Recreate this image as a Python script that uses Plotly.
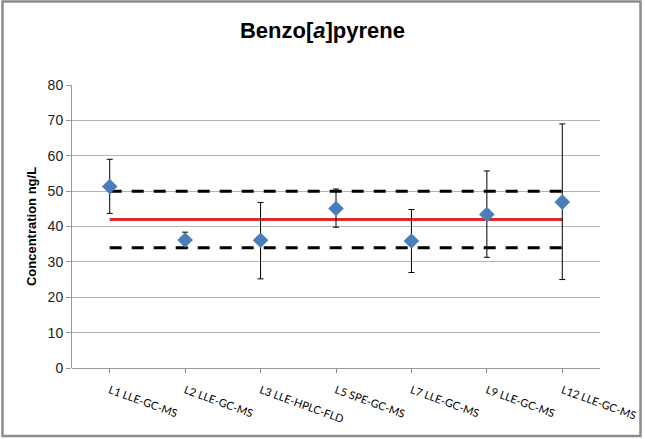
import plotly.graph_objects as go

labs = ["L1 LLE-GC-MS", "L2 LLE-GC-MS", "L3 LLE-HPLC-FLD", "L5 SPE-GC-MS",
        "L7 LLE-GC-MS", "L9 LLE-GC-MS", "L12 LLE-GC-MS"]
conc = [51.3, 36.2, 36.1, 45.1, 35.9, 43.4, 46.9]
err_plus = [7.7, 2.2, 10.7, 5.5, 8.9, 12.3, 22.1]
err_minus = [7.6, 2.2, 10.9, 5.3, 8.9, 12.1, 21.9]
ref_value = 42
lower_limit = 34
upper_limit = 50

W, H = 645, 439
L, R, T, B = 72, 45, 85, 71
pw, ph = W - L - R, H - T - B

fig = go.Figure()
for val, col, dash in [(upper_limit, "black", "12px,10px"), (lower_limit, "black", "12px,10px"), (ref_value, "#e0292b", "solid")]:
    fig.add_trace(go.Scatter(x=labs, y=[val] * len(labs), mode="lines",
                             line=dict(color=col, width=3, dash=dash), hoverinfo="skip"))
fig.add_trace(go.Scatter(
    x=labs, y=conc, mode="markers",
    marker=dict(symbol="diamond", size=12, color="#4a7ebb"),
    error_y=dict(type="data", symmetric=False, array=err_plus, arrayminus=err_minus,
                 color="black", thickness=1, width=3),
))

def px_x(p):
    return (p - L) / pw

def px_y(p):
    return (H - B - p) / ph

fig.add_shape(type="rect", xref="paper", yref="paper",
              x0=px_x(2.5), x1=px_x(640.5), y0=px_y(436), y1=px_y(1.5),
              line=dict(color="#8c8c8c", width=2.5), fillcolor="rgba(0,0,0,0)", layer="below")

fig.update_layout(
    width=W, height=H,
    margin=dict(l=L, r=R, t=T, b=B, autoexpand=False),
    paper_bgcolor="white", plot_bgcolor="white",
    showlegend=False,
    font=dict(family="Liberation Sans, Arial, sans-serif", color="black"),
    title=dict(text="<b>Benzo[<i>a</i>]pyrene</b>", x=0.5, xanchor="center",
               y=1 - 30 / H, yanchor="middle", font=dict(size=22, color="black")),
    xaxis=dict(showgrid=False, showline=False, ticks="outside", ticklen=4, tickcolor="#888",
               tickangle=20, tickfont=dict(family="Lato, sans-serif", size=11),
               ticklabelstandoff=7, automargin=False,
               range=[-0.5, 6.5]),
    yaxis=dict(range=[0, 80], dtick=10, showgrid=True, gridcolor="#b4b4b4", gridwidth=1,
               showline=True, linecolor="#999", ticks="outside", ticklen=5, tickcolor="#999",
               zeroline=True, zerolinecolor="#999", zerolinewidth=1, automargin=False,
               tickfont=dict(size=14, color="#222"),
               title=dict(text="<b>Concentration ng/L</b>", font=dict(size=13), standoff=8)),
)
fig.write_html("out.html", config={"displayModeBar": False},
               post_script="document.body.style.margin='0';document.body.style.overflow='hidden';")
